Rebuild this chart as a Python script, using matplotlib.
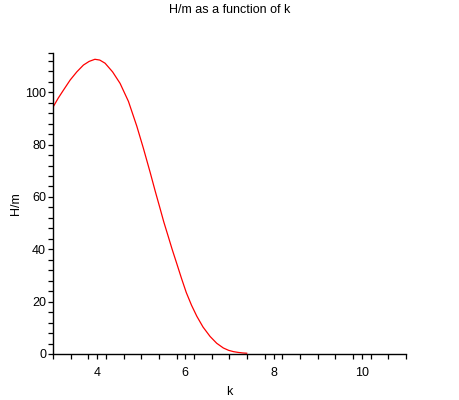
import numpy as np
import matplotlib.pyplot as plt
from matplotlib.ticker import FixedLocator

plt.rcParams['font.family'] = ['Liberation Sans', 'DejaVu Sans']

# values
k = [3.0, 3.12, 3.24, 3.39, 3.54, 3.69, 3.82, 3.95, 4.06, 4.18, 4.35, 4.52, 4.71,
     4.9, 5.05, 5.2, 5.32, 5.42, 5.51, 5.61, 5.7, 5.8, 5.91, 6.02, 6.14, 6.26,
     6.4, 6.56, 6.71, 6.86, 6.98, 7.09, 7.2, 7.3, 7.39]
hm = [94.3, 97.8, 100.9, 104.7, 107.8, 110.4, 111.8, 112.6, 112.3, 111.1, 107.8, 103.4, 96.5,
      87.0, 78.5, 69.5, 62.0, 56.0, 50.5, 45.0, 40.0, 34.8, 29.0, 23.5, 18.6, 14.4,
      10.3, 6.7, 4.1, 2.3, 1.4, 0.9, 0.6, 0.4, 0.3]

fig = plt.figure(figsize=(4.6, 4.0), dpi=100)
ax = fig.add_axes([53 / 460, 1 - 354 / 400, 353 / 460, 301 / 400])

ax.plot(k, hm, color='red', linewidth=0.9)

ax.set_xlim(3, 11)
ax.set_ylim(0, 115)

for s in ['top', 'right']:
    ax.spines[s].set_visible(False)
for s in ['left', 'bottom']:
    ax.spines[s].set_linewidth(1.0)

ax.set_xticks([4, 6, 8, 10])
ax.set_yticks([0, 20, 40, 60, 80, 100])
ax.xaxis.set_minor_locator(FixedLocator(list(np.arange(3.0, 10.9, 0.4)) + [11]))
ax.yaxis.set_minor_locator(FixedLocator(list(np.arange(0, 113, 4)) + [115]))
ax.tick_params(which='both', direction='out', length=3.5, width=0.9, labelsize=9)
ax.tick_params(axis='x', pad=6)
ax.tick_params(axis='y', pad=1.5)

ax.set_xlabel('k', fontsize=9, labelpad=5)
ax.set_ylabel('H/m', fontsize=9, labelpad=2)
fig.suptitle('H/m as a function of k', fontsize=9, y=0.99)

fig.savefig('out.png', dpi=100)
